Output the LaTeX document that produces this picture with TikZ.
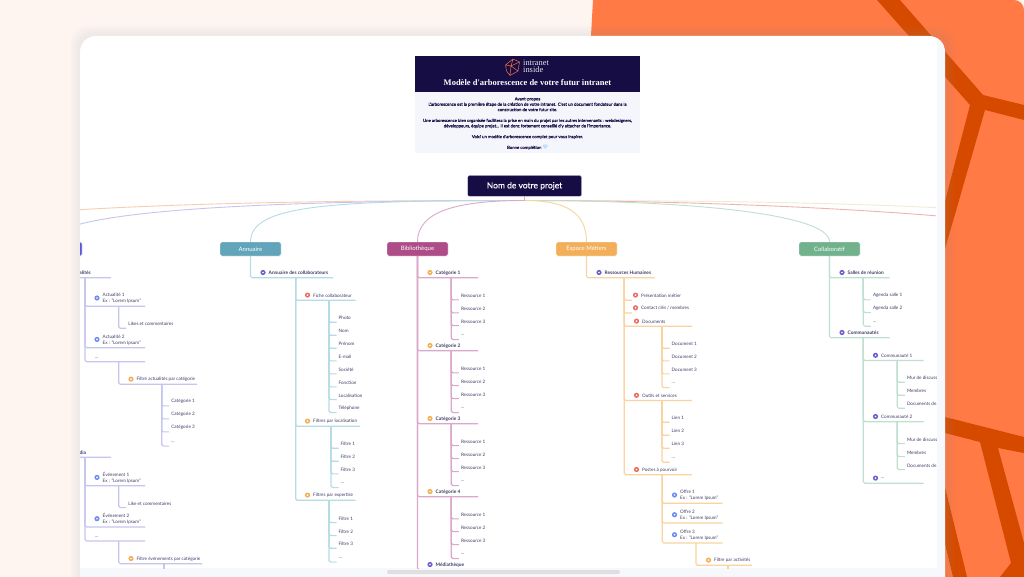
\documentclass[tikz,border=0pt]{standalone}
\usepackage{fontspec}
\setmainfont{Lato}
\newfontfamily\ser{Liberation Serif}
\newfontfamily\emo{Noto Emoji}
\newfontfamily\latoM[FakeBold=0.15]{Lato}
\definecolor{navy}{HTML}{160D44}
\definecolor{peachbg}{HTML}{FFF5F0}
\definecolor{org}{HTML}{FF7A45}
\definecolor{dark}{HTML}{D64A00}
\definecolor{strip}{HTML}{F7F8FC}
\definecolor{intro}{HTML}{F5F6FC}
\definecolor{txt}{HTML}{3F3D66}
\definecolor{cteal}{HTML}{B5DCE6}
\definecolor{cpink}{HTML}{DBA8CA}
\definecolor{corg}{HTML}{FAD3A0}
\definecolor{cgrn}{HTML}{BFE0CE}
\definecolor{cpur}{HTML}{C5C5EE}
\definecolor{cpeach}{HTML}{F8CDB0}
\definecolor{cred}{HTML}{EDB4AE}
\definecolor{cbeige}{HTML}{F2EAD6}
\definecolor{HPur}{HTML}{6A5FD0}
\definecolor{HBlu}{HTML}{6E8CF0}
\definecolor{HRed}{HTML}{EE6B60}
\definecolor{HOrg}{HTML}{F6AC50}
\definecolor{bxact}{HTML}{5B5BD6}
\definecolor{bxann}{HTML}{62A5BA}
\definecolor{bxbib}{HTML}{AE4C87}
\definecolor{bxmet}{HTML}{F3AE5A}
\definecolor{bxcol}{HTML}{71B28C}
\newcommand{\Bd}{\fontsize{4.8}{6}\selectfont\bfseries}
\tikzset{
 ln/.style={line width=1.15pt,rounded corners=1.6pt},
 cv/.style={line width=.9pt},
 tx/.style={anchor=west,inner sep=0pt,text=txt,align=left,font=\fontsize{4.6}{6}\selectfont},
 box/.style={minimum width=61pt,minimum height=14pt,inner sep=0pt,rounded corners=1.5pt,text=white,draw=white,line width=.4pt,font=\fontsize{6}{7}\selectfont},
 bpur/.style={color=HPur},
 bblu/.style={color=HBlu},
 bred/.style={color=HRed},
 borg/.style={color=HOrg},
 bnone/.style={opacity=0},
}
% optional offset, parent, name, x0, yline, x1, textx, text, bullet style
\newcommand{\It}[9][5.2]{%
 \coordinate (#3) at (#4,#5);
 \coordinate (#3r) at (#6,#5);
 \draw[ln] (#3 |- #2) |- (#3r);
 \node[tx] (#3t) at (#7,{#5-#1+.4}) {#8};
 \fill[#9] ({#7-5.5},{#5-#1}) circle (2.6);
 \fill[#9,color=white] ({#7-5.5},{#5-#1}) circle (.95);
}
% parent, name, trunk x, y of text, text
\newcommand{\Lf}[5]{%
 \coordinate (#2) at (#3,{#4+4.6});
 \coordinate (#2r) at ({#3+7.5},{#4+4.6});
 \draw[ln] (#2 |- #1) |- (#2r);
 \node[tx] (#2t) at ({#3+9.5},{#4+.4}) {#5};
}
\begin{document}
\begin{tikzpicture}[x=1pt,y=-1pt]
\useasboundingbox (0,0) rectangle (1024,577);
% backdrop
\fill[peachbg] (0,0) rectangle (1024,577);
\fill[org] (593,0) [rounded corners=10pt] -- (1024,0) [sharp corners] -- (1024,590) -- (560,590) -- cycle;
\fill[dark] (877,0) -- (900,0) -- (983,95) -- (1024,105) -- (1024,120) -- (985,110) -- (945,249) -- (945,201) -- (970,105) -- (908,35) -- cycle;
\fill[dark] (945,417) -- (1024,437) -- (1024,453) -- (998,448) -- (1024,543) -- (1024,577) -- (1000,577) -- (1011,563) -- (980,442) -- (945,433) -- cycle;
\fill[dark] (945,487) -- (967,577) -- (953,577) -- (945,544) -- cycle;
% card
\foreach \i in {1,...,10} {
 \fill[gray!60,opacity=.014,rounded corners=16pt] ({80-\i},{36-\i}) rectangle ({945+\i},640);
}
\fill[white,rounded corners=16pt] (80,36) rectangle (945,640);
\begin{scope}
 \clip[rounded corners=16pt] (80,36) rectangle (945,640);
 \fill[strip] (937,36) rectangle (945,577);
 \fill[strip] (80,568) rectangle (945,577);
\end{scope}
\fill[gray!25,rounded corners=2pt] (387,570) rectangle (620,574);
% header
\fill[navy] (415,56) rectangle (640,92);
\fill[intro] (415,92) rectangle (640,153);
\draw[color=HRed!70!orange,line width=.5pt,line join=round] (505.5,65) -- (513,59) -- (519.5,62) -- (518,71) -- (510,75.5) -- (506.5,71) -- cycle (513,59) -- (511,66) -- (519.5,62) (505.5,65) -- (511,66) -- (518,71) (511,66) -- (510,75.5);
\node[inner sep=0pt,anchor=west,align=left,text=white!90!navy,font=\ser\fontsize{8.4}{7}\selectfont] (logotext) at (523,66.5) {intranet\\inside};
\node[inner sep=0pt,text=white,font=\ser\bfseries\fontsize{8.5}{9}\selectfont] (title) at (527.5,83) {Modèle d'arborescence de votre futur intranet};
\node[inner sep=0pt,text=navy,align=center,font=\latoM\fontsize{4.28}{5.4}\selectfont] (intro) at (527.5,123.5) {Avant-propos\\L'arborescence est la première étape de la création de votre intranet. C'est un document fondateur dans la\\construction de votre futur site.\\~\\Une arborescence bien organisée facilitera la prise en main du projet par les autres intervenants : webdesigners,\\développeurs, équipe projet... Il est donc fortement conseillé d'y attacher de l'importance.\\~\\Voici un modèle d'arborescence complet pour vous inspirer.\\~\\Bonne complétion {\emo\color{HBlu!70!cyan}💎}};
\begin{scope}
\clip (80,170) rectangle (936,568);
% curves (drawn before the boxes)
\node[inner sep=0pt,minimum width=114pt,minimum height=21pt] (root) at (524.5,186) {};
\coordinate (hub) at (524.5,200.5);
\coordinate (far1) at (-150,242);
\coordinate (far2) at (1200,242);
\coordinate (far3) at (1090,242);
\node[box,fill=bxact] (act) at (51.5,249) {Actualités};
\node[box,fill=bxann] (annu) at (250.5,249) {Annuaire};
\node[box,fill=bxbib] (biblio) at (417.5,249) {Bibliothèque};
\node[box,fill=bxmet] (metier) at (586.5,249) {Espace Métiers};
\node[box,fill=bxcol] (collab) at (829.5,249) {Collaboratif};
\draw[cv,cbeige] (root.south) -- (hub) .. controls (760,200.5) and (1100,203) .. (far2);
\draw[cv,cpeach] (root.south) -- (hub) .. controls (300,200.5) and (-50,203) .. (far1);
\draw[cv,cred] (root.south) -- (hub) .. controls (760,200.5) and (1070,218) .. (far3);
\draw[cv,cgrn] (root.south) -- (hub) .. controls (700,200.5) and (829.5,215) .. (collab.north);
\draw[cv,cpur] (root.south) -- (hub) .. controls (300,200.5) and (50,208) .. (act.north);
\draw[cv,cteal] (root.south) -- (hub) .. controls (330,200.5) and (250.5,205) .. (annu.north);
\draw[cv,corg] (root.south) -- (hub) .. controls (565,200.5) and (586.5,212) .. (metier.north);
\draw[cv,cpink] (root.south) -- (hub) .. controls (455,200.5) and (417.5,212) .. (biblio.north);
% Annuaire
\begin{scope}[color=cteal]
\It{annu.south}{a1}{250.5}{277.7}{333}{268.5}{\Bd Annuaire des collaborateurs}{bpur}
\It{a1}{a2}{295.7}{300.3}{355.7}{313}{Fiche collaborateur}{bred}
\Lf{a2}{a21}{329}{317.7}{Photo}
\Lf{a2}{a22}{329}{330.7}{Nom}
\Lf{a2}{a23}{329}{343.7}{Prénom}
\Lf{a2}{a24}{329}{356.3}{E-mail}
\Lf{a2}{a25}{329}{369.3}{Société}
\Lf{a2}{a26}{329}{382.3}{Fonction}
\Lf{a2}{a27}{329}{395}{Localisation}
\Lf{a2}{a28}{329}{408}{Téléphone}
\It{a1}{a3}{295.7}{426.3}{360}{313}{Filtres par localisation}{borg}
\Lf{a3}{a31}{331}{443.7}{Filtre 1}
\Lf{a3}{a32}{331}{456.7}{Filtre 2}
\Lf{a3}{a33}{331}{469.3}{Filtre 3}
\Lf{a3}{a34}{331}{483}{...}
\It{a1}{a4}{295.7}{500.3}{355.7}{313}{Filtres par expertise}{borg}
\Lf{a4}{a41}{329}{518}{Filtre 1}
\Lf{a4}{a42}{329}{531}{Filtre 2}
\Lf{a4}{a43}{329}{543.7}{Filtre 3}
\Lf{a4}{a44}{329}{557.5}{...}
\end{scope}
% Bibliotheque
\begin{scope}[color=cpink]
\It{biblio.south}{b1}{417.5}{277.7}{478}{435.5}{\Bd Catégorie 1}{borg}
\Lf{b1}{b11}{451.3}{295.3}{Ressource 1}
\Lf{b1}{b12}{451.3}{308.3}{Ressource 2}
\Lf{b1}{b13}{451.3}{321}{Ressource 3}
\Lf{b1}{b14}{451.3}{335}{...}
\It{biblio.south}{b2}{417.5}{350.7}{478}{435.5}{\Bd Catégorie 2}{borg}
\Lf{b2}{b21}{451.3}{368.3}{Ressource 1}
\Lf{b2}{b22}{451.3}{381}{Ressource 2}
\Lf{b2}{b23}{451.3}{394}{Ressource 3}
\Lf{b2}{b24}{451.3}{408}{...}
\It{biblio.south}{b3}{417.5}{423.7}{478}{435.5}{\Bd Catégorie 3}{borg}
\Lf{b3}{b31}{451.3}{441}{Ressource 1}
\Lf{b3}{b32}{451.3}{454}{Ressource 2}
\Lf{b3}{b33}{451.3}{467}{Ressource 3}
\Lf{b3}{b34}{451.3}{481}{...}
\It{biblio.south}{b4}{417.5}{496.7}{478}{435.5}{\Bd Catégorie 4}{borg}
\Lf{b4}{b41}{451.3}{514.3}{Ressource 1}
\Lf{b4}{b42}{451.3}{527}{Ressource 2}
\Lf{b4}{b43}{451.3}{540}{Ressource 3}
\Lf{b4}{b44}{451.3}{554}{...}
\It{biblio.south}{b5}{417.5}{569.7}{478}{435.5}{\Bd Médiathèque}{bpur}
\end{scope}
% Espace metiers
\begin{scope}[color=corg]
\It{metier.south}{m1}{586.5}{277.7}{654.7}{604.5}{\Bd Ressources Humaines}{bpur}
\It{m1}{m2}{624.3}{300.3}{632}{641}{Présentation métier}{bred}
\It{m1}{m3}{624.3}{313}{632}{641}{Contact clés / membres}{bred}
\It{m1}{m4}{624.3}{326.3}{692}{642}{Documents}{bred}
\Lf{m4}{m41}{662}{343.7}{Document 1}
\Lf{m4}{m42}{662}{356.3}{Document 2}
\Lf{m4}{m43}{662}{369.3}{Document 3}
\Lf{m4}{m44}{662}{383}{...}
\It{m1}{m5}{624.3}{400.5}{692}{642}{Outils et services}{bred}
\Lf{m5}{m51}{662}{417.7}{Lien 1}
\Lf{m5}{m52}{662}{430.7}{Lien 2}
\Lf{m5}{m53}{662}{443.7}{Lien 3}
\Lf{m5}{m54}{662}{457.7}{...}
\It{m1}{m6}{624.3}{474.7}{692}{642}{Postes à pourvoir}{bred}
\It[8.3]{m6}{m61}{662.3}{503.3}{722.7}{680}{Offre 1\\Ex : "Lorem Ipsum"}{bblu}
\It[8.3]{m6}{m62}{662.3}{523}{722.7}{680}{Offre 2\\Ex : "Lorem Ipsum"}{bblu}
\It[8.3]{m6}{m63}{662.3}{543}{722.7}{680}{Offre 3\\Ex : "Lorem Ipsum"}{bblu}
\It{m63}{m64}{696}{565.3}{752}{714}{Filtre par activités}{borg}
\coordinate (m65) at (728,570);
\draw[ln] (m65 |- m64) -- (m65);
\end{scope}
% Collaboratif
\begin{scope}[color=cgrn]
\It{collab.south}{c1}{829.5}{277.7}{889.7}{847.5}{\Bd Salles de réunion}{bpur}
\Lf{c1}{c11}{863.3}{295.3}{Agenda salle 1}
\Lf{c1}{c12}{863.3}{308}{Agenda salle 2}
\Lf{c1}{c13}{863.3}{321.7}{...}
\It{collab.south}{c2}{829.5}{337.7}{889.7}{847.5}{\Bd Communautés}{bpur}
\It{c2}{c3}{863.3}{360.5}{923.7}{881}{Communauté 1}{bpur}
\Lf{c3}{c31}{897.3}{377.7}{Mur de discussion}
\Lf{c3}{c32}{897.3}{390.7}{Membres}
\Lf{c3}{c33}{897.3}{403.7}{Documents de la communauté}
\It{c2}{c4}{863.3}{421.7}{923.7}{881}{Communauté 2}{bpur}
\Lf{c4}{c41}{897.3}{439}{Mur de discussion}
\Lf{c4}{c42}{897.3}{452}{Membres}
\Lf{c4}{c43}{897.3}{465}{Documents de la communauté}
\It{c2}{c5}{863.3}{483.3}{923.7}{881}{...}{bpur}
\end{scope}
% Actualites
\begin{scope}[color=cpur]
\It{act.south}{d1}{51.5}{277.7}{111}{69.2}{\Bd Actualités}{bnone}
\It[8.3]{d1}{d11}{85}{306.3}{145}{102.5}{Actualité 1\\Ex : "Lorem Ipsum"}{bblu}
\Lf{d11}{d111}{118.7}{323.7}{Likes et commentaires}
\It[8.3]{d1}{d12}{85}{347.7}{145}{102.5}{Actualité 2\\Ex : "Lorem Ipsum"}{bblu}
\It[4.2]{d1}{d13}{85}{361.7}{145}{95}{...}{bnone}
\It{d13}{d14}{118.7}{384.3}{197}{136.5}{Filtre actualités par catégorie}{borg}
\Lf{d14}{d141}{161.7}{401.3}{Catégorie 1}
\Lf{d14}{d142}{161.7}{414.3}{Catégorie 2}
\Lf{d14}{d143}{161.7}{427.3}{Catégorie 3}
\Lf{d14}{d144}{161.7}{441.5}{...}
\It{act.south}{e1}{51.5}{457.3}{111}{72.5}{\Bd Média}{bnone}
\It[8.3]{e1}{e11}{85}{485.7}{145}{102.5}{Événement 1\\Ex : "Lorem Ipsum"}{bblu}
\Lf{e11}{e111}{118.7}{503}{Like et commentaires}
\It[8.3]{e1}{e12}{85}{527}{145}{102.5}{Événement 2\\Ex : "Lorem Ipsum"}{bblu}
\It[4.2]{e1}{e13}{85}{541}{145}{95}{...}{bnone}
\It{e13}{e14}{118.7}{563.7}{202}{136.5}{Filtre évènements par catégorie}{borg}
\coordinate (e15) at (164,570);
\draw[ln] (e15 |- e14) -- (e15);
\end{scope}
\end{scope}
% root node over the hub
\node[fill=navy,draw=white,line width=.3pt,minimum width=114pt,minimum height=21pt,inner sep=0pt,rounded corners=1.5pt,text=white,font=\latoM\fontsize{8.5}{12}\selectfont] (rootlabel) at (524.5,186) {Nom de votre projet};
\end{tikzpicture}
\end{document}
